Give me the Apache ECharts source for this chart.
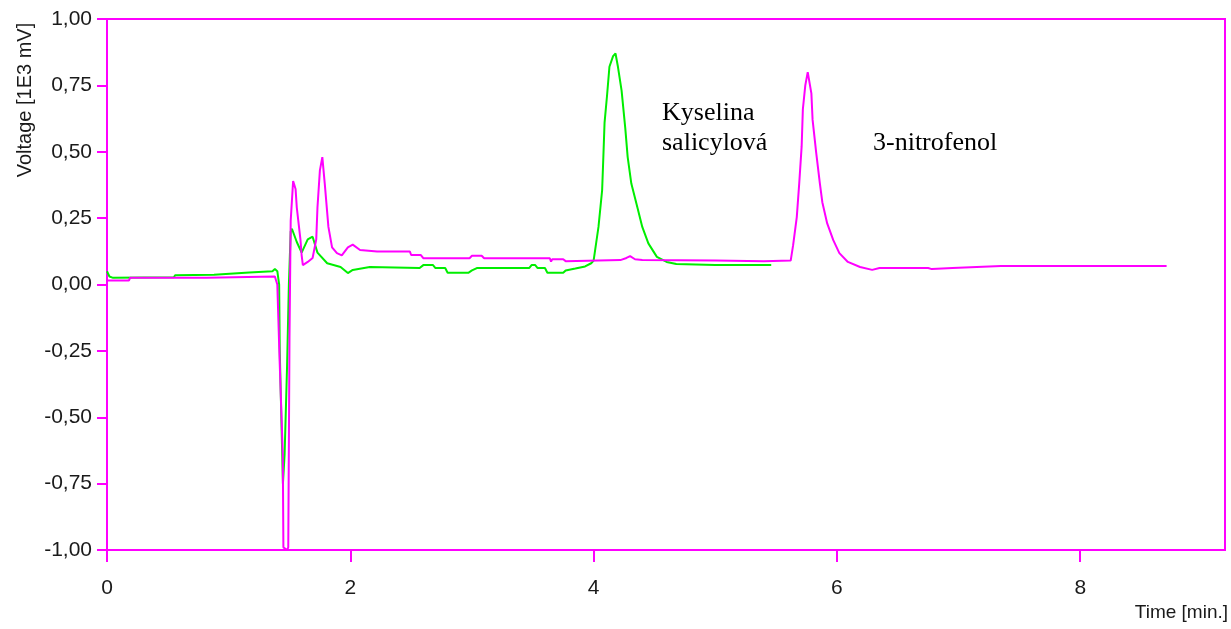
<!DOCTYPE html>
<html>
<head>
<meta charset="utf-8">
<title>Chromatogram</title>
<script src="https://cdn.jsdelivr.net/npm/echarts@6/dist/echarts.min.js"></script>
<style>
  html, body { margin: 0; padding: 0; background: #ffffff; }
  #chart { width: 1231px; height: 629px; }
</style>
</head>
<body>
<div id="chart"></div>
<script>
// Detector trace of the salicylic acid standard: [time (min), voltage (1E3 mV)]
const salicylicTrace = [
  [0.00, 0.05], [0.02, 0.03], [0.05, 0.025], [0.55, 0.027], [0.56, 0.035],
  [0.88, 0.037], [0.89, 0.042], [1.17, 0.045], [1.18, 0.05], [1.36, 0.05],
  [1.38, 0.058], [1.40, 0.05], [1.415, 0.0], [1.42, -0.25], [1.446, -0.75],
  [1.46, -0.64], [1.48, -0.31], [1.495, 0.0], [1.51, 0.20], [1.52, 0.21],
  [1.56, 0.16], [1.60, 0.12], [1.65, 0.17], [1.69, 0.18], [1.73, 0.12],
  [1.81, 0.08], [1.92, 0.066], [1.98, 0.043], [2.02, 0.055], [2.16, 0.066],
  [2.57, 0.062], [2.60, 0.073], [2.68, 0.073], [2.70, 0.062], [2.78, 0.062],
  [2.80, 0.044], [2.97, 0.044], [3.00, 0.053], [3.04, 0.062], [3.47, 0.062],
  [3.49, 0.073], [3.52, 0.073], [3.54, 0.062], [3.60, 0.062], [3.62, 0.044],
  [3.75, 0.044], [3.77, 0.053], [3.85, 0.06], [3.93, 0.068], [3.98, 0.08],
  [4.00, 0.09], [4.04, 0.217], [4.07, 0.355], [4.08, 0.48], [4.09, 0.61],
  [4.11, 0.71], [4.13, 0.82], [4.16, 0.86], [4.18, 0.87], [4.20, 0.82],
  [4.23, 0.73], [4.26, 0.59], [4.28, 0.48], [4.31, 0.38], [4.36, 0.29],
  [4.40, 0.217], [4.45, 0.155], [4.52, 0.104], [4.60, 0.085], [4.68, 0.077],
  [5.00, 0.073], [5.46, 0.073]
];

// Detector trace of the 3-nitrophenol run: [time (min), voltage (1E3 mV)]
const nitrophenolTrace = [
  [0.00, 0.015], [0.18, 0.015], [0.19, 0.025], [0.82, 0.025], [0.83, 0.03],
  [1.38, 0.03], [1.40, 0.0], [1.42, -0.30], [1.445, -0.64], [1.45, -0.99],
  [1.48, -1.0], [1.49, -0.99], [1.50, -0.20], [1.51, 0.24], [1.53, 0.39],
  [1.55, 0.36], [1.56, 0.29], [1.59, 0.17], [1.60, 0.11], [1.61, 0.073],
  [1.65, 0.085], [1.69, 0.10], [1.72, 0.17], [1.73, 0.29], [1.75, 0.43],
  [1.77, 0.48], [1.79, 0.38], [1.82, 0.217], [1.85, 0.14], [1.89, 0.118],
  [1.93, 0.11], [1.98, 0.14], [2.02, 0.15], [2.08, 0.13], [2.22, 0.124],
  [2.49, 0.124], [2.50, 0.111], [2.58, 0.111], [2.60, 0.099], [2.98, 0.099],
  [3.00, 0.108], [3.08, 0.108], [3.10, 0.099], [3.64, 0.099], [3.65, 0.086],
  [3.66, 0.095], [3.75, 0.095], [3.77, 0.088], [4.22, 0.092], [4.27, 0.10],
  [4.30, 0.107], [4.34, 0.095], [4.40, 0.092], [5.00, 0.09], [5.40, 0.088],
  [5.62, 0.09], [5.64, 0.148], [5.67, 0.254], [5.69, 0.38], [5.71, 0.52],
  [5.72, 0.66], [5.74, 0.75], [5.76, 0.80], [5.79, 0.72], [5.80, 0.62],
  [5.83, 0.495], [5.86, 0.38], [5.88, 0.31], [5.92, 0.23], [5.97, 0.167],
  [6.02, 0.118], [6.09, 0.085], [6.19, 0.066], [6.29, 0.055], [6.35, 0.062],
  [6.75, 0.062], [6.78, 0.058], [6.95, 0.062], [7.35, 0.07], [8.71, 0.07]
];

// Axis texts and peak annotations
const yAxisTitle = 'Voltage [1E3 mV]';
const xAxisTitle = 'Time [min.]';
const peakNames = ['Kyselina\nsalicylová', '3-nitrofenol'];

const frameColor = '#ff00ff';
const tickFont = "'Liberation Sans Narrow', 'Liberation Sans', Arial, sans-serif";

const chart = echarts.init(document.getElementById('chart'), null, { renderer: 'canvas' });

chart.setOption({
  animation: false,
  backgroundColor: '#ffffff',
  grid: {
    left: 107, right: 6, top: 19, bottom: 79,
    show: true, borderColor: frameColor, borderWidth: 2, backgroundColor: 'transparent'
  },
  xAxis: {
    type: 'value',
    min: 0, max: 9.19, interval: 2,
    axisLine: { onZero: false, lineStyle: { color: frameColor, width: 2 } },
    axisTick: { length: 12, lineStyle: { color: frameColor, width: 2 } },
    splitLine: { show: false },
    axisLabel: {
      margin: 28, color: '#1a1a1a', fontSize: 21, fontFamily: tickFont,
      showMaxLabel: false,
      formatter: v => String(v)
    }
  },
  yAxis: {
    type: 'value',
    min: -1, max: 1, interval: 0.25,
    axisLine: { show: true, lineStyle: { color: frameColor, width: 2 } },
    axisTick: { show: true, length: 10, lineStyle: { color: frameColor, width: 2 } },
    splitLine: { show: false },
    axisLabel: {
      margin: 15, color: '#1a1a1a', fontSize: 21, fontFamily: tickFont,
      formatter: v => v.toFixed(2).replace('.', ',')
    }
  },
  series: [
    {
      type: 'line', name: 'Kyselina salicylová', data: salicylicTrace,
      symbol: 'none', lineStyle: { color: '#00ee00', width: 2 }, z: 2
    },
    {
      type: 'line', name: '3-nitrofenol', data: nitrophenolTrace,
      symbol: 'none', lineStyle: { color: '#ff00ff', width: 2 }, z: 3
    }
  ],
  graphic: [
    {
      type: 'text', x: 25, y: 100, rotation: Math.PI / 2,
      style: {
        text: yAxisTitle, fill: '#1a1a1a', font: "20px 'Liberation Sans', Arial, sans-serif",
        align: 'center', verticalAlign: 'middle'
      }
    },
    {
      type: 'text', x: 1228, y: 613,
      style: {
        text: xAxisTitle, fill: '#1a1a1a', font: "19px 'Liberation Sans', Arial, sans-serif",
        align: 'right', verticalAlign: 'middle'
      }
    },
    {
      type: 'text', x: 662, y: 128.5,
      style: {
        text: peakNames[0], fill: '#000000', font: "26px 'Liberation Serif', 'Times New Roman', serif",
        lineHeight: 30, align: 'left', verticalAlign: 'middle'
      }
    },
    {
      type: 'text', x: 873, y: 143.5,
      style: {
        text: peakNames[1], fill: '#000000', font: "26px 'Liberation Serif', 'Times New Roman', serif",
        align: 'left', verticalAlign: 'middle'
      }
    }
  ]
});
</script>
</body>
</html>
